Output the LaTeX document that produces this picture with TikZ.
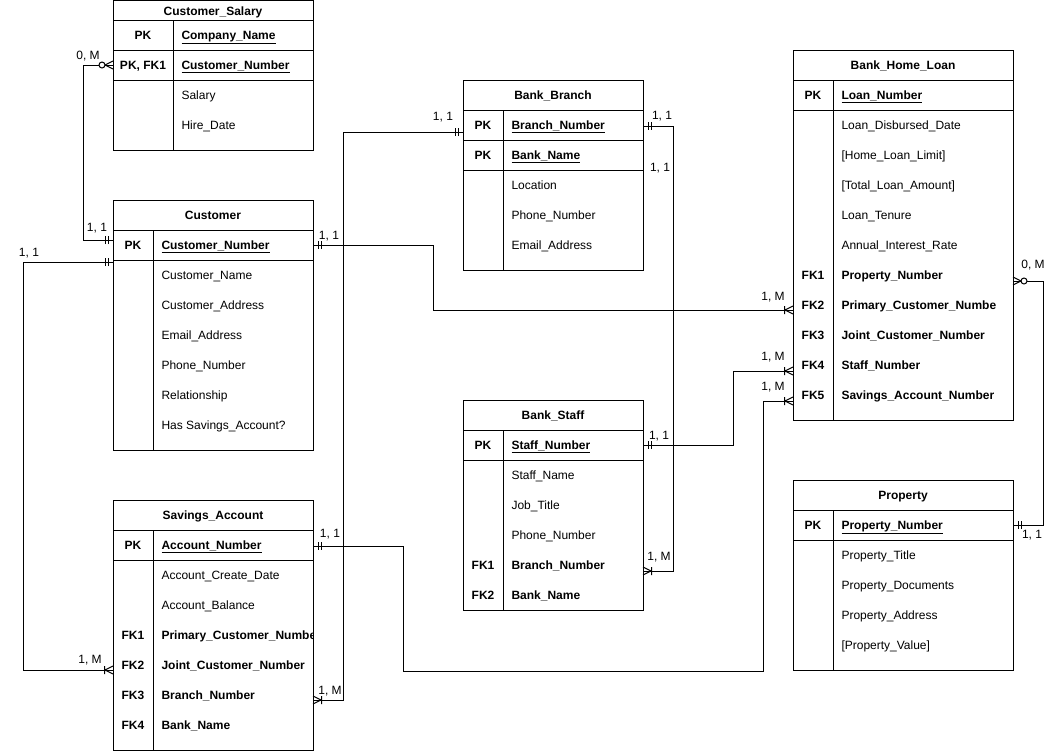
\documentclass[tikz,border=0pt]{standalone}
\usepackage{fontspec}
\setmainfont{Liberation Sans}
\newcommand\fs{\fontsize{12}{14}\selectfont}
\begin{document}
\begin{tikzpicture}[x=1pt,y=-1pt,line width=1pt,
  tbox/.style={draw,anchor=north west,inner sep=0,outer sep=0},
  ttl/.style={font=\fs\bfseries,anchor=base,inner sep=0},
  key/.style={font=\fs\bfseries,anchor=base,inner sep=0},
  fld/.style={font=\fs,anchor=base west,inner sep=0},
  fk/.style={font=\fs\bfseries,anchor=base west,inner sep=0},
  pkf/.style={font=\fs\bfseries,anchor=base west,inner sep=0},
  lbl/.style={font=\fs,anchor=base,inner sep=0},
  mone/.pic={\draw (5,-4)--(5,4) (8,-4)--(8,4);},
  onemany/.pic={\draw (0,-4)--(8,0)--(0,4) (8.5,-4)--(8.5,4);},
  zeromany/.pic={\draw (0,-4)--(8,0)--(0,4); \draw[fill=white] (11,0) circle[radius=3];}
]
\useasboundingbox (0,0) rectangle (1064,753);

% ---------------- Customer_Salary
\node[tbox,minimum width=200,minimum height=149.5] (cs) at (113,0.5) {};
\draw (113,20)--(313,20) (113,50)--(313,50) (113,80)--(313,80) (173,20)--(173,150);
\node[ttl] (cs-t) at (213,15) {Customer\_Salary};
\node[key] (cs-k1) at (143,39) {PK};
\node[pkf] (cs-f1) at (181,39) {\underline{Company\_Name}};
\node[key] (cs-k2) at (143,69) {PK, FK1};
\node[pkf] (cs-f2) at (181,69) {\underline{Customer\_Number}};
\node[fld] (cs-f3) at (181,99) {Salary};
\node[fld] (cs-f4) at (181,129) {Hire\_Date};

% ---------------- Customer
\node[tbox,minimum width=200,minimum height=250] (cu) at (113,200) {};
\draw (113,230)--(313,230) (113,260)--(313,260) (153,230)--(153,450);
\node[ttl] (cu-t) at (213,219) {Customer};
\node[key] (cu-k1) at (133,249) {PK};
\node[pkf] (cu-f1) at (161,249) {\underline{Customer\_Number}};
\node[fld] (cu-f2) at (161,279) {Customer\_Name};
\node[fld] (cu-f3) at (161,309) {Customer\_Address};
\node[fld] (cu-f4) at (161,339) {Email\_Address};
\node[fld] (cu-f5) at (161,369) {Phone\_Number};
\node[fld] (cu-f6) at (161,399) {Relationship};
\node[fld] (cu-f7) at (161,429) {Has Savings\_Account?};

% ---------------- Savings_Account
\node[tbox,minimum width=200,minimum height=250] (sa) at (113,500) {};
\draw (113,530)--(313,530) (113,560)--(313,560) (153,530)--(153,750);
\node[ttl] (sa-t) at (213,519) {Savings\_Account};
\node[key] (sa-k1) at (133,549) {PK};
\node[pkf] (sa-f1) at (161,549) {\underline{Account\_Number}};
\node[fld] (sa-f2) at (161,579) {Account\_Create\_Date};
\node[fld] (sa-f3) at (161,609) {Account\_Balance};
\node[key] (sa-k4) at (133,639) {FK1};
\begin{scope}
\clip (155,622) rectangle (313,652);
\node[fk] (sa-f4) at (161,639) {Primary\_Customer\_Number};
\end{scope}
\node[key] (sa-k5) at (133,669) {FK2};
\node[fk] (sa-f5) at (161,669) {Joint\_Customer\_Number};
\node[key] (sa-k6) at (133,699) {FK3};
\node[fk] (sa-f6) at (161,699) {Branch\_Number};
\node[key] (sa-k7) at (133,729) {FK4};
\node[fk] (sa-f7) at (161,729) {Bank\_Name};

% ---------------- Bank_Branch
\node[tbox,minimum width=180,minimum height=190] (bb) at (463,80) {};
\draw (463,110)--(643,110) (463,140)--(643,140) (463,170)--(643,170) (503,110)--(503,270);
\node[ttl] (bb-t) at (553,99) {Bank\_Branch};
\node[key] (bb-k1) at (483,129) {PK};
\node[pkf] (bb-f1) at (511,129) {\underline{Branch\_Number}};
\node[key] (bb-k2) at (483,159) {PK};
\node[pkf] (bb-f2) at (511,159) {\underline{Bank\_Name}};
\node[fld] (bb-f3) at (511,189) {Location};
\node[fld] (bb-f4) at (511,219) {Phone\_Number};
\node[fld] (bb-f5) at (511,249) {Email\_Address};

% ---------------- Bank_Staff
\node[tbox,minimum width=180,minimum height=210] (bs) at (463,400) {};
\draw (463,430)--(643,430) (463,460)--(643,460) (503,430)--(503,610);
\node[ttl] (bs-t) at (553,419) {Bank\_Staff};
\node[key] (bs-k1) at (483,449) {PK};
\node[pkf] (bs-f1) at (511,449) {\underline{Staff\_Number}};
\node[fld] (bs-f2) at (511,479) {Staff\_Name};
\node[fld] (bs-f3) at (511,509) {Job\_Title};
\node[fld] (bs-f4) at (511,539) {Phone\_Number};
\node[key] (bs-k5) at (483,569) {FK1};
\node[fk] (bs-f5) at (511,569) {Branch\_Number};
\node[key] (bs-k6) at (483,599) {FK2};
\node[fk] (bs-f6) at (511,599) {Bank\_Name};

% ---------------- Bank_Home_Loan
\node[tbox,minimum width=220,minimum height=370] (bl) at (793,50) {};
\draw (793,80)--(1013,80) (793,110)--(1013,110) (833,80)--(833,420);
\node[ttl] (bl-t) at (903,69) {Bank\_Home\_Loan};
\node[key] (bl-k1) at (813,99) {PK};
\node[pkf] (bl-f1) at (841,99) {\underline{Loan\_Number}};
\node[fld] (bl-f2) at (841,129) {Loan\_Disbursed\_Date};
\node[fld] (bl-f3) at (841,159) {[Home\_Loan\_Limit]};
\node[fld] (bl-f4) at (841,189) {[Total\_Loan\_Amount]};
\node[fld] (bl-f5) at (841,219) {Loan\_Tenure};
\node[fld] (bl-f6) at (841,249) {Annual\_Interest\_Rate};
\node[key] (bl-k7) at (813,279) {FK1};
\node[fk] (bl-f7) at (841,279) {Property\_Number};
\node[key] (bl-k8) at (813,309) {FK2};
\begin{scope}
\clip (835,292) rectangle (995,322);
\node[fk] (bl-f8) at (841,309) {Primary\_Customer\_Number};
\end{scope}
\node[key] (bl-k9) at (813,339) {FK3};
\node[fk] (bl-f9) at (841,339) {Joint\_Customer\_Number};
\node[key] (bl-k10) at (813,369) {FK4};
\node[fk] (bl-f10) at (841,369) {Staff\_Number};
\node[key] (bl-k11) at (813,399) {FK5};
\node[fk] (bl-f11) at (841,399) {Savings\_Account\_Number};

% ---------------- Property
\node[tbox,minimum width=220,minimum height=190] (pr) at (793,480) {};
\draw (793,510)--(1013,510) (793,540)--(1013,540) (833,510)--(833,670);
\node[ttl] (pr-t) at (903,499) {Property};
\node[key] (pr-k1) at (813,529) {PK};
\node[pkf] (pr-f1) at (841,529) {\underline{Property\_Number}};
\node[fld] (pr-f2) at (841,559) {Property\_Title};
\node[fld] (pr-f3) at (841,589) {Property\_Documents};
\node[fld] (pr-f4) at (841,619) {Property\_Address};
\node[fld] (pr-f5) at (841,649) {[Property\_Value]};

% ---------------- connector end points
\coordinate (cs-c) at (113,65);
\coordinate (cu-a) at (113,240);
\coordinate (cu-b) at (113,262);
\coordinate (cu-c) at (313,245);
\coordinate (sa-a) at (313,546);
\coordinate (sa-b) at (113,670);
\coordinate (sa-c) at (313,700);
\coordinate (bb-a) at (463,132);
\coordinate (bb-b) at (643,126);
\coordinate (bs-a) at (643,445);
\coordinate (bs-b) at (643,571);
\coordinate (bl-a) at (793,310);
\coordinate (bl-b) at (793,371);
\coordinate (bl-c) at (793,401);
\coordinate (bl-d) at (1013,281);
\coordinate (pr-a) at (1013,525);

% ---------------- connectors
\draw (cs-c) -- ++(-30,0) |- (cu-a);
\draw (cu-b) -- ++(-90,0) |- (sa-b);
\draw (cu-c) -- ++(120,0) |- (bl-a);
\draw (bb-a) -- ++(-120,0) |- (sa-c);
\draw (bb-b) -- ++(30,0) |- (bs-b);
\draw (bs-a) -- ++(90,0) |- (bl-b);
\draw (sa-a) -- ++(90,0) -- ++(0,125) -| ([xshift=-30]bl-c) -- (bl-c);
\draw (bl-d) -- ++(30,0) |- (pr-a);

% ---------------- markers
\pic[rotate=180] at (cs-c) {zeromany};
\pic[rotate=180] at (cu-a) {mone};
\pic[rotate=180] at (cu-b) {mone};
\pic[rotate=180] at (sa-b) {onemany};
\pic at (cu-c) {mone};
\pic[rotate=180] at (bl-a) {onemany};
\pic[rotate=180] at (bb-a) {mone};
\pic at (sa-c) {onemany};
\pic at (bb-b) {mone};
\pic at (bs-b) {onemany};
\pic at (bs-a) {mone};
\pic[rotate=180] at (bl-b) {onemany};
\pic at (sa-a) {mone};
\pic[rotate=180] at (bl-c) {onemany};
\pic at (bl-d) {zeromany};
\pic at (pr-a) {mone};

% ---------------- cardinality labels
\node[lbl] (l1) at (88,59) {0, M};
\node[lbl] (l2) at (97,231) {1, 1};
\node[lbl] (l3) at (29,256) {1, 1};
\node[lbl] (l4) at (329,239) {1, 1};
\node[lbl] (l5) at (443,120) {1, 1};
\node[lbl] (l6) at (662,119) {1, 1};
\node[lbl] (l7) at (660,171) {1, 1};
\node[lbl] (l8) at (773,300) {1, M};
\node[lbl] (l9) at (773,360) {1, M};
\node[lbl] (l10) at (773,390) {1, M};
\node[lbl] (l11) at (1033,268) {0, M};
\node[lbl] (l12) at (1032,538) {1, 1};
\node[lbl] (l13) at (659,439) {1, 1};
\node[lbl] (l14) at (659,560) {1, M};
\node[lbl] (l15) at (330,537) {1, 1};
\node[lbl] (l16) at (330,694) {1, M};
\node[lbl] (l17) at (90,663) {1, M};
\end{tikzpicture}
\end{document}
